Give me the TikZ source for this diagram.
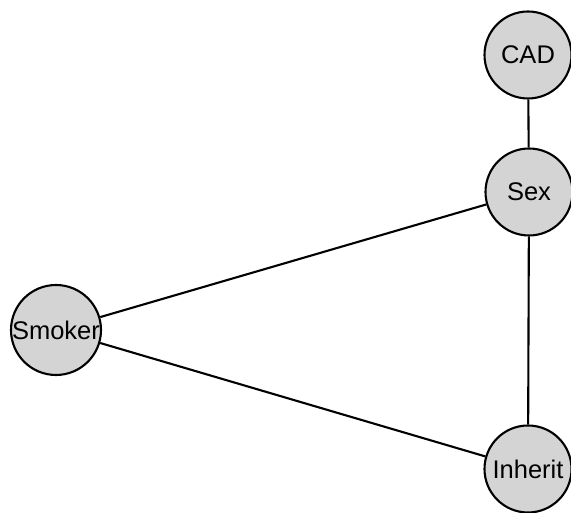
\documentclass[tikz,border=0pt]{standalone}
\usepackage{fontspec}
\setmainfont{Liberation Sans}
\begin{document}
\begin{tikzpicture}[x=1pt,y=1pt,
  var/.style={circle,draw=black,line width=2.1pt,fill=black!17,minimum size=87pt,inner sep=0pt,font=\fontsize{25.5}{28}\selectfont},
  link/.style={line width=2.1pt,black}]
  \useasboundingbox (0,0) rectangle (571,513);
  \node[var] (cad) at (528,458) {CAD};
  \node[var] (sex) at (529,321) {Sex};
  \node[var,minimum size=90pt] (smoker) at (56,183) {Smoker};
  \node[var] (inherit) at (528,44) {Inherit};
  \draw[link] (cad) -- (sex);
  \draw[link] (sex) -- (inherit);
  \draw[link] (sex) -- (smoker);
  \draw[link] (smoker) -- (inherit);
\end{tikzpicture}
\end{document}
